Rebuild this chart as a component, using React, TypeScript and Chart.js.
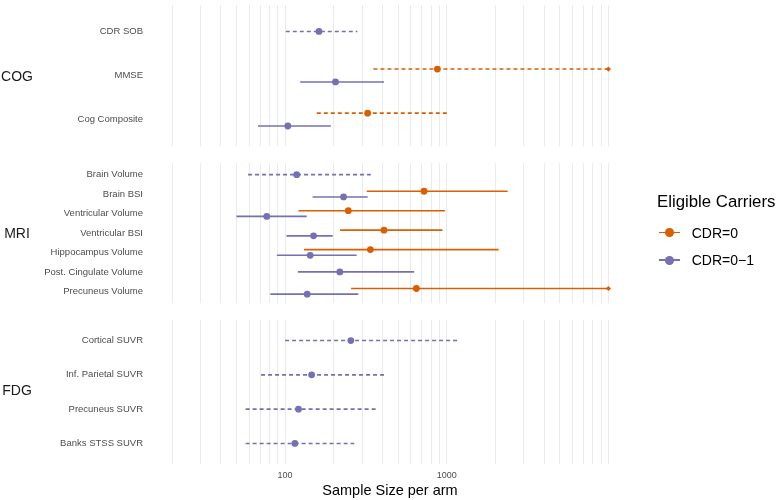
import React, { useEffect, useRef } from 'react';
import { Chart, registerables } from 'chart.js';

Chart.register(...registerables);

// ---------- data ----------
const SERIES_LABELS = ['CDR=0', 'CDR=0\u22121'];
const ORANGE = '#D95F02';
const PURPLE = '#7570B3';

const GRID_TICKS = [
  20, 30, 40, 50, 60, 70, 80, 90,
  100, 200, 300, 400, 500, 600, 700, 800, 900,
  1000, 2000, 3000, 4000, 5000, 6000, 7000, 8000, 9000, 10000,
];
const LABELLED_TICKS = [100, 1000];
const CAP_VALUE = 10000;

const COG_ROWS = ['CDR SOB', 'MMSE', 'Cog Composite'];
const COG_CDR0_EST = [null, 875, 324];
const COG_CDR0_LO = [null, 352, 157];
const COG_CDR0_HI = [null, 10000, 1033];
const COG_CDR0_DASHED = [false, true, true];
const COG_CDR01_EST = [162, 205, 104];
const COG_CDR01_LO = [101, 124, 68];
const COG_CDR01_HI = [280, 409, 192];
const COG_CDR01_DASHED = [true, false, false];

const MRI_ROWS = [
  'Brain Volume', 'Brain BSI', 'Ventricular Volume', 'Ventricular BSI',
  'Hippocampus Volume', 'Post. Cingulate Volume', 'Precuneus Volume',
];
const MRI_CDR0_EST = [null, 724, 246, 409, 337, null, 649];
const MRI_CDR0_LO = [null, 320, 121, 219, 131, null, 256];
const MRI_CDR0_HI = [null, 2380, 975, 940, 2094, null, 10000];
const MRI_CDR0_DASHED = [false, false, false, false, false, false, false];
const MRI_CDR01_EST = [118, 230, 77, 150, 143, 218, 137];
const MRI_CDR01_LO = [59, 148, 50, 102, 89, 120, 81];
const MRI_CDR01_HI = [339, 324, 136, 197, 277, 628, 284];
const MRI_CDR01_DASHED = [true, false, false, false, false, false, false];

const FDG_ROWS = ['Cortical SUVR', 'Inf. Parietal SUVR', 'Precuneus SUVR', 'Banks STSS SUVR'];
const FDG_CDR0_EST = [null, null, null, null];
const FDG_CDR0_LO = [null, null, null, null];
const FDG_CDR0_HI = [null, null, null, null];
const FDG_CDR0_DASHED = [false, false, false, false];
const FDG_CDR01_EST = [255, 146, 121, 115];
const FDG_CDR01_LO = [100, 71, 57, 57];
const FDG_CDR01_HI = [1180, 420, 364, 268];
const FDG_CDR01_DASHED = [true, true, true, true];

const X_MIN = 14.6;
const X_MAX = 13600;

// ---------- layout ----------
const FONT = '"Liberation Sans", Arial, Helvetica, sans-serif';
const AXIS_LEFT = 150;
const RIGHT_PAD = 150;
const DODGE = 0.146;

type Group = { est: (number | null)[]; lo: (number | null)[]; hi: (number | null)[]; dashed: boolean[] };
type Panel = { name: string; rows: string[]; cdr0: Group; cdr01: Group; top: number; height: number; bottom: boolean };

const PANELS: Panel[] = [
  {
    name: 'COG', rows: COG_ROWS,
    cdr0: { est: COG_CDR0_EST, lo: COG_CDR0_LO, hi: COG_CDR0_HI, dashed: COG_CDR0_DASHED },
    cdr01: { est: COG_CDR01_EST, lo: COG_CDR01_LO, hi: COG_CDR01_HI, dashed: COG_CDR01_DASHED },
    top: 1, height: 149, bottom: false,
  },
  {
    name: 'MRI', rows: MRI_ROWS,
    cdr0: { est: MRI_CDR0_EST, lo: MRI_CDR0_LO, hi: MRI_CDR0_HI, dashed: MRI_CDR0_DASHED },
    cdr01: { est: MRI_CDR01_EST, lo: MRI_CDR01_LO, hi: MRI_CDR01_HI, dashed: MRI_CDR01_DASHED },
    top: 159, height: 148, bottom: false,
  },
  {
    name: 'FDG', rows: FDG_ROWS,
    cdr0: { est: FDG_CDR0_EST, lo: FDG_CDR0_LO, hi: FDG_CDR0_HI, dashed: FDG_CDR0_DASHED },
    cdr01: { est: FDG_CDR01_EST, lo: FDG_CDR01_LO, hi: FDG_CDR01_HI, dashed: FDG_CDR01_DASHED },
    top: 316, height: 184, bottom: true,
  },
];

function buildConfig(panel: Panel): any {
  const groups = [
    { g: panel.cdr0, color: ORANGE, side: -1, label: SERIES_LABELS[0] },
    { g: panel.cdr01, color: PURPLE, side: 1, label: SERIES_LABELS[1] },
  ];
  const n = panel.rows.length;
  const datasets: any[] = [];
  groups.forEach((grp) => {
    const pts: any[] = [];
    const caps: any[] = [];
    grp.g.est.forEach((e, i) => {
      if (e == null) return;
      const both = groups.every((o) => o.g.est[i] != null);
      const y = i + (both ? grp.side * DODGE : 0);
      const lo = grp.g.lo[i] as number;
      const hi = grp.g.hi[i] as number;
      datasets.push({
        label: grp.label,
        data: [{ x: lo, y }, { x: hi, y }],
        showLine: true,
        borderColor: grp.color,
        borderWidth: 1.6,
        borderDash: grp.g.dashed[i] ? [4, 3] : [],
        borderCapStyle: 'butt',
        pointRadius: 0,
        pointHoverRadius: 0,
        order: 2,
      });
      pts.push({ x: e, y });
      if (hi >= CAP_VALUE) caps.push({ x: hi, y });
    });
    datasets.push({
      label: grp.label,
      data: pts,
      showLine: false,
      pointRadius: 3.4,
      pointBackgroundColor: grp.color,
      pointBorderWidth: 0,
      order: 0,
    });
    datasets.push({
      label: grp.label,
      data: caps,
      showLine: false,
      pointStyle: 'rectRot',
      pointRadius: 2.6,
      pointBackgroundColor: grp.color,
      pointBorderWidth: 0,
      order: 1,
    });
  });

  return {
    type: 'scatter',
    data: { datasets },
    options: {
      animation: false,
      responsive: false,
      maintainAspectRatio: false,
      events: [],
      layout: { padding: { left: 0, right: RIGHT_PAD, top: 0, bottom: 0 } },
      plugins: { legend: { display: false }, tooltip: { enabled: false } },
      scales: {
        x: {
          type: 'logarithmic',
          min: X_MIN,
          max: X_MAX,
          bounds: 'data',
          afterBuildTicks: (s: any) => {
            s.ticks = GRID_TICKS.map((v) => ({ value: v }));
          },
          afterFit: (s: any) => {
            s.height = panel.bottom ? 36 : 0;
            s.paddingLeft = 0;
            s.paddingRight = 0;
          },
          ticks: {
            display: panel.bottom,
            autoSkip: false,
            maxRotation: 0,
            minRotation: 0,
            padding: 6,
            color: '#4D4D4D',
            font: { family: FONT, size: 9 },
            callback: (v: any) => (LABELLED_TICKS.includes(Number(v)) ? String(v) : ''),
          },
          grid: { color: '#EBEBEB', lineWidth: 1, drawTicks: false },
          border: { display: false },
          title: {
            display: panel.bottom,
            text: 'Sample Size per arm',
            color: '#000000',
            font: { family: FONT, size: 14.5 },
            padding: { top: 0, bottom: 0 },
          },
        },
        y: {
          type: 'linear',
          reverse: true,
          min: -0.6,
          max: n - 0.4,
          bounds: 'data',
          afterBuildTicks: (s: any) => {
            s.ticks = panel.rows.map((_, i) => ({ value: i }));
          },
          afterFit: (s: any) => {
            s.width = AXIS_LEFT;
            s.paddingTop = 0;
            s.paddingBottom = 0;
          },
          ticks: {
            autoSkip: false,
            padding: 7,
            color: '#4D4D4D',
            font: { family: FONT, size: 9.5 },
            callback: (v: any) => panel.rows[Math.round(Number(v))] ?? '',
          },
          grid: { display: false, drawTicks: false },
          border: { display: false },
        },
      },
    },
  };
}

function PanelChart({ panel }: { panel: Panel }) {
  const ref = useRef<HTMLCanvasElement | null>(null);
  useEffect(() => {
    if (!ref.current) return;
    const chart = new Chart(ref.current, buildConfig(panel));
    return () => chart.destroy();
  }, [panel]);
  return (
    <canvas
      ref={ref}
      width={780}
      height={panel.height}
      style={{ position: 'absolute', left: 0, top: panel.top, width: 780, height: panel.height }}
    />
  );
}

export default function App() {
  useEffect(() => {
    document.body.style.margin = '0';
  }, []);
  const stripCenters = [75.5, 233, 390];
  return (
    <div style={{ position: 'fixed', left: 0, top: 0, width: 780, height: 500, background: '#fff', fontFamily: FONT }}>
      {PANELS.map((p) => (
        <PanelChart key={p.name} panel={p} />
      ))}
      {PANELS.map((p, i) => (
        <div
          key={'s' + p.name}
          style={{
            position: 'absolute', left: 0, width: 34, textAlign: 'center',
            top: stripCenters[i] - 10, height: 20, lineHeight: '20px',
            fontSize: 14, color: '#1A1A1A',
          }}
        >
          {p.name}
        </div>
      ))}
      <div style={{ position: 'absolute', left: 657, top: 191.7, lineHeight: '20px', fontSize: 16.8, color: '#000', whiteSpace: 'nowrap' }}>
        Eligible Carriers
      </div>
      {SERIES_LABELS.map((lab, i) => {
        const cy = i === 0 ? 232.5 : 260.2;
        const col = i === 0 ? ORANGE : PURPLE;
        return (
          <React.Fragment key={lab}>
            <div style={{ position: 'absolute', left: 659, top: cy - 0.8, width: 21, height: 1.6, background: col }} />
            <div style={{ position: 'absolute', left: 669.5 - 4.4, top: cy - 4.4, width: 8.8, height: 8.8, borderRadius: '50%', background: col }} />
            <div style={{ position: 'absolute', left: 691.7, top: cy - 10, lineHeight: '20px', fontSize: 14, color: '#000', whiteSpace: 'nowrap' }}>
              {lab}
            </div>
          </React.Fragment>
        );
      })}
    </div>
  );
}
